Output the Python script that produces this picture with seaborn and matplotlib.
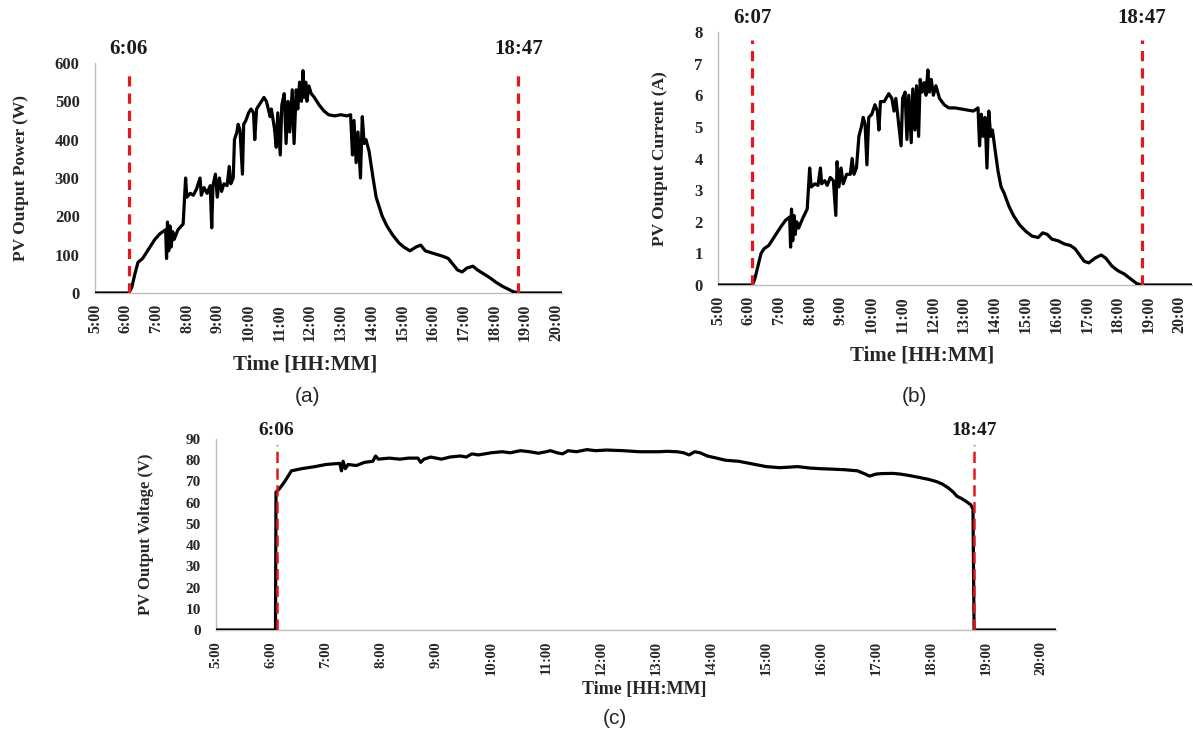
import matplotlib
matplotlib.use("Agg")
import matplotlib.pyplot as plt
import pandas as pd
import seaborn as sns

sns.set_theme(style="white")
plt.rcParams["font.family"] = ["Liberation Serif", "DejaVu Serif"]

# ---------------- data ----------------
hour_ticks = list(range(5, 21))
hour_labels = [f"{h}:00" for h in hour_ticks]

power_time = [5.0, 6.1, 6.2, 6.3, 6.4, 6.55, 6.75, 6.95, 7.12, 7.3, 7.33, 7.36, 7.4, 7.44, 7.48,
              7.53, 7.58, 7.7, 7.87, 7.95, 7.99, 8.1, 8.2, 8.3, 8.42, 8.46, 8.55, 8.65, 8.75,
              8.8, 8.84, 8.92, 8.98, 9.05, 9.12, 9.2, 9.3, 9.37, 9.42, 9.5, 9.54, 9.62, 9.66,
              9.72, 9.8, 9.84, 9.91, 10.0, 10.08, 10.16, 10.2, 10.26, 10.38, 10.5, 10.58, 10.7,
              10.74, 10.84, 10.9, 10.95, 11.03, 11.08, 11.16, 11.22, 11.28, 11.34, 11.42, 11.48,
              11.55, 11.6, 11.66, 11.72, 11.77, 11.81, 11.86, 11.9, 11.96, 12.04, 12.14, 12.3,
              12.45, 12.6, 12.8, 13.0, 13.2, 13.32, 13.38, 13.43, 13.5, 13.56, 13.64, 13.7,
              13.76, 13.82, 13.92, 14.05, 14.15, 14.25, 14.35, 14.5, 14.7, 14.9, 15.05, 15.25,
              15.45, 15.6, 15.75, 15.95, 16.15, 16.35, 16.5, 16.65, 16.8, 16.95, 17.1, 17.3,
              17.45, 17.65, 17.85, 18.05, 18.25, 18.45, 18.6, 18.78, 20.2]
power_w = [0, 0, 15, 50, 80, 90, 115, 140, 155, 165, 90, 185, 110, 175, 120,
           160, 140, 165, 180, 300, 250, 260, 255, 270, 300, 255, 275, 260, 280,
           170, 280, 310, 250, 300, 265, 285, 280, 330, 285, 300, 400, 420, 440,
           425, 310, 440, 450, 470, 480, 470, 400, 480, 495, 510, 500, 460,
           480, 430, 380, 470, 360, 490, 520, 390, 500, 420, 530, 390,
           530, 480, 550, 500, 580, 510, 550, 500, 540, 520, 510, 490,
           475, 465, 462, 465, 462, 465, 360, 450, 340, 420, 300, 460,
           390, 400, 370, 300, 250, 225, 200, 175, 150, 130, 120, 110,
           120, 125, 110, 105, 100, 95, 90, 75, 60, 55, 65, 70,
           60, 50, 40, 28, 18, 10, 4, 0, 0]

current_time = [5.0, 6.12, 6.2, 6.3, 6.4, 6.5, 6.65, 6.85, 7.05, 7.2, 7.33, 7.36, 7.39, 7.43,
                7.47, 7.51, 7.56, 7.62, 7.75, 7.9, 7.98, 8.03, 8.15, 8.25, 8.33, 8.37, 8.47,
                8.55, 8.65, 8.75, 8.83, 8.87, 8.93, 9.0, 9.07, 9.18, 9.3, 9.36, 9.42, 9.5,
                9.58, 9.66, 9.72, 9.78, 9.84, 9.9, 10.0, 10.1, 10.18, 10.23, 10.28, 10.4,
                10.55, 10.65, 10.72, 10.78, 10.86, 10.95, 11.0, 11.08, 11.14, 11.2, 11.28,
                11.33, 11.4, 11.45, 11.52, 11.57, 11.64, 11.7, 11.76, 11.82, 11.87, 11.93,
                12.0, 12.08, 12.2, 12.35, 12.5, 12.7, 13.0, 13.3, 13.45, 13.5, 13.56, 13.62,
                13.68, 13.74, 13.8, 13.86, 13.92, 14.0, 14.1, 14.2, 14.3, 14.45, 14.6, 14.8,
                15.0, 15.2, 15.4, 15.55, 15.7, 15.85, 16.05, 16.25, 16.45, 16.6, 16.75, 16.9,
                17.05, 17.25, 17.45, 17.6, 17.8, 18.0, 18.2, 18.4, 18.6, 18.78, 20.4]
current_a = [0, 0, 0.2, 0.6, 1.0, 1.15, 1.25, 1.55, 1.85, 2.05, 2.15, 1.2, 2.4, 1.4,
             2.2, 1.6, 2.0, 1.8, 2.1, 2.4, 3.7, 3.1, 3.2, 3.15, 3.7, 3.2, 3.3,
             3.15, 3.4, 3.3, 2.2, 3.9, 3.1, 3.7, 3.2, 3.5, 3.5, 4.0, 3.5, 3.7,
             4.7, 5.0, 5.3, 5.1, 3.8, 5.3, 5.4, 5.7, 5.5, 4.9, 5.8, 5.8,
             6.05, 5.9, 5.5, 5.9, 5.2, 4.4, 5.9, 6.1, 4.6, 6.0, 4.5,
             6.2, 4.9, 6.3, 4.7, 6.5, 6.1, 6.4, 6.0, 6.8, 6.1, 6.5,
             6.0, 6.3, 5.9, 5.7, 5.6, 5.6, 5.55, 5.5, 5.6, 4.4, 5.4, 4.7,
             5.3, 3.7, 5.5, 4.7, 4.9, 4.3, 3.6, 3.1, 2.9, 2.5, 2.2, 1.9,
             1.7, 1.55, 1.5, 1.65, 1.6, 1.45, 1.4, 1.3, 1.25, 1.15, 0.95, 0.75,
             0.7, 0.85, 0.95, 0.85, 0.6, 0.45, 0.35, 0.2, 0.05, 0, 0]

voltage_time = [5.0, 6.08, 6.09, 6.15, 6.25, 6.37, 6.55, 6.8, 7.0, 7.14, 7.25, 7.28, 7.31, 7.35,
                7.4, 7.55, 7.7, 7.85, 7.9, 7.95, 8.15, 8.34, 8.5, 8.67, 8.72, 8.78, 8.9, 9.1,
                9.25, 9.44, 9.55, 9.65, 9.77, 10.0, 10.2, 10.35, 10.53, 10.7, 10.86, 11.0,
                11.08, 11.2, 11.3, 11.4, 11.55, 11.74, 11.9, 12.1, 12.4, 12.7, 13.05, 13.2,
                13.38, 13.5, 13.6, 13.7, 13.8, 13.93, 14.1, 14.26, 14.5, 14.7, 15.0, 15.24,
                15.4, 15.57, 15.8, 16.0, 16.2, 16.44, 16.66, 16.8, 16.88, 17.0, 17.1, 17.3,
                17.43, 17.6, 17.76, 17.95, 18.09, 18.2, 18.31, 18.4, 18.47, 18.55, 18.64,
                18.72, 18.76, 18.78, 20.27]
voltage_v = [0, 0, 65, 66.5, 70, 75, 76, 77, 78, 78.3, 78.5, 75, 79.5, 76,
             78, 77.5, 79, 79.5, 82, 80.5, 81, 80.5, 81, 81, 79, 80.5, 81.5, 80.5,
             81.5, 82, 81.5, 83, 82.5, 83.5, 84, 83.5, 84.5, 84, 83.3, 84,
             84.5, 83.5, 83, 84.5, 84, 85, 84.5, 84.8, 84.5, 84, 84, 84.2,
             84, 83.5, 82.5, 84, 83.5, 82, 81, 80, 79.5, 78.5, 77, 76.5,
             76.7, 77, 76.3, 76, 75.8, 75.5, 75, 73.5, 72.5, 73.5, 73.7, 73.8,
             73.5, 72.8, 72, 71, 70, 68.8, 67, 65, 63, 62, 60.5,
             59, 57, 0, 0]

events_a = [6.1, 18.783]
events_b = [6.117, 18.783]
events_c = [6.1, 18.783]
event_labels_a = ["6:06", "18:47"]
event_labels_b = ["6:07", "18:47"]
event_labels_c = ["6:06", "18:47"]

# ---------------- figure ----------------
fig = plt.figure(figsize=(11.93, 7.34), dpi=100)
ax_a = fig.add_axes([0.0796, 0.6008, 0.3915, 0.3134])
ax_b = fig.add_axes([0.6018, 0.6117, 0.3973, 0.3447])
ax_c = fig.add_axes([0.1811, 0.1417, 0.7041, 0.2602])

RED = "#e3171f"


def draw(ax, t, v, events, ev_labels, ylim, yticks, xmax, ylabel, ylab_x,
         tick_fs, lab_fs, xlab_fs, red_lw, red_dash, ev_off, ev_fs):
    df = pd.DataFrame({"t": t, "v": v})
    sns.lineplot(data=df, x="t", y="v", ax=ax, color="black", lw=2.3,
                 estimator=None, sort=False, zorder=3)
    for x, lab in zip(events, ev_labels):
        ax.axvline(x, ymin=0, ymax=0.97, color=RED, lw=red_lw,
                   dashes=red_dash, zorder=4)
        ax.annotate(lab, xy=(x, 1.0), xycoords=("data", "axes fraction"),
                    xytext=(0, ev_off), textcoords="offset points",
                    ha="center", va="bottom", fontsize=ev_fs, fontweight="bold",
                    color="#1a1a1a", annotation_clip=False)
    ax.set_xlim(5, xmax)
    ax.set_ylim(*ylim)
    ax.set_yticks(yticks)
    ax.set_xticks(hour_ticks)
    ax.set_xticklabels(hour_labels, rotation=90)
    ax.tick_params(axis="x", length=0, pad=8, labelsize=tick_fs)
    ax.tick_params(axis="y", length=0, pad=11, labelsize=tick_fs + 0.5)
    for lab in ax.get_xticklabels() + ax.get_yticklabels():
        lab.set_fontweight("bold")
    for s in ["top", "right"]:
        ax.spines[s].set_visible(False)
    ax.spines["left"].set_color("#bdbdbd")
    ax.spines["left"].set_linewidth(1.0)
    ax.spines["bottom"].set_color("#bdbdbd")
    ax.spines["bottom"].set_linewidth(1.0)
    ax.set_xlabel("Time [HH:MM]", fontsize=xlab_fs, fontweight="bold")
    ax.set_ylabel(ylabel, fontsize=lab_fs, fontweight="bold")
    ax.yaxis.set_label_coords(ylab_x, 0.5)
    ax.yaxis.label.set_va("center")
    ax.grid(False)


draw(ax_a, power_time, power_w, events_a, event_labels_a, (0, 600),
     [0, 100, 200, 300, 400, 500, 600], 20.2, "PV Output Power (W)", -0.158,
     11.5, 12.5, 15, 2.3, (3.2, 2.2), 3, 15)
draw(ax_b, current_time, current_a, events_b, event_labels_b, (0, 8),
     list(range(0, 9)), 20.4, "PV Output Current (A)", -0.123,
     11.5, 12.5, 15, 2.3, (3.2, 2.2), 3, 15)
draw(ax_c, voltage_time, voltage_v, events_c, event_labels_c, (0, 90),
     list(range(0, 91, 10)), 20.27, "PV Output Voltage (V)", -0.083,
     10.5, 12, 13, 1.8, (4.5, 2.2), 0, 14)

ax_a.xaxis.set_label_coords(0.45, -0.31)
ax_b.xaxis.set_label_coords(0.43, -0.28)
ax_c.xaxis.set_label_coords(0.51, -0.31)
for ax in (ax_a, ax_b, ax_c):
    ax.xaxis.label.set_va("center")

cap_kw = dict(fontsize=15, family=["Liberation Sans", "DejaVu Sans"],
              ha="center", va="center")
fig.text(308 / 1193, 1 - 396 / 734, "(a)", **cap_kw)
fig.text(914 / 1193, 1 - 396 / 734, "(b)", **cap_kw)
fig.text(615 / 1193, 1 - 719 / 734, "(c)", **cap_kw)

fig.savefig("out.png", dpi=100)
